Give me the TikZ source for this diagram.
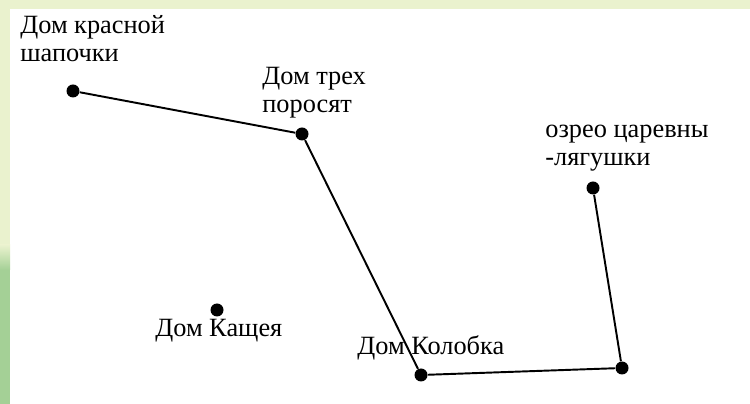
\documentclass[tikz,border=0pt]{standalone}
\usepackage{fontspec}
\setmainfont{Liberation Serif}
\definecolor{bgpale}{RGB}{234,242,206}
\definecolor{bggreen}{RGB}{164,208,150}
\usetikzlibrary{positioning}

\tikzset{
  house/.style={circle, fill=black, inner sep=0pt, minimum size=0.26cm},
  place/.style={font=\fontsize{15}{16.5}\selectfont, align=left, anchor=base west, inner sep=0pt},
  road/.style={line width=1.1pt, black}
}

\begin{document}
\begin{tikzpicture}[x=0.02cm, y=-0.02cm]
  \useasboundingbox (0,0) rectangle (750,404);

  % page background strips
  \fill[bgpale] (0,0) rectangle (750,9);
  \fill[bgpale] (0,0) rectangle (10,262);
  \shade[top color=bgpale, bottom color=bggreen] (0,245) rectangle (10,270);
  \fill[bggreen] (0,270) rectangle (10,404);

  % houses
  \node[house] (shapka) at (73,91) {};
  \node[house] (porosyata) at (302,134) {};
  \node[house] (lyagushka) at (593,188) {};
  \node[house] (kashchey) at (217,310) {};
  \node[house] (kolobok) at (421,375) {};
  \node[house] (corner) at (622,368) {};

  % names (anchored at the baseline of the last line)
  \node[place] (shapkaname) at (20,62) {Дом красной\\шапочки};
  \node[place] (porosyataname) at (262,113) {Дом трех\\поросят};
  \node[place] (lyagushkaname) at (545,166) {озрео царевны\\-лягушки};
  \node[place] (kashcheyname) at (155,337) {Дом Кащея};
  \node[place] (kolobokname) at (357,355) {Дом Колобка};

  % route
  \draw[road] (shapka) -- (porosyata) -- (kolobok) -- (corner) -- (lyagushka);
\end{tikzpicture}
\end{document}
